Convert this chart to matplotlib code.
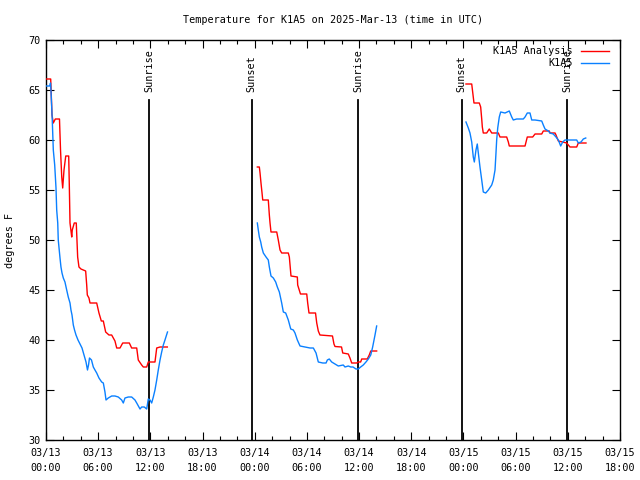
import matplotlib
matplotlib.use("Agg")
import matplotlib.pyplot as plt
import numpy as np
from matplotlib.ticker import MultipleLocator, FixedLocator

# ---- data (hours since 2025-03-13 00:00 UTC, degrees F) ----
an1_h = [0.06, 0.54, 0.69, 0.84, 1.07, 1.55, 1.67, 1.81, 1.92, 2.07, 2.27, 2.61, 2.68, 2.76, 2.96, 3.02,
         3.25, 3.48, 3.64, 3.79, 4.02, 4.56, 4.68, 4.75, 4.94, 5.06, 5.83, 6.09, 6.36, 6.59, 6.86, 7.24,
         7.55, 7.74, 7.93, 8.13, 8.51, 8.82, 9.58, 9.85, 10.43, 10.61, 11.00, 11.19, 11.58, 11.76, 12.53,
         12.73, 13.11, 13.95]
an1_v = [66.1, 66.1, 62.5, 61.7, 62.1, 62.1, 59.0, 56.3, 55.2, 57.0, 58.4, 58.4, 55.5, 51.7, 50.3, 51.0,
         51.7, 51.7, 48.3, 47.3, 47.1, 46.9, 45.5, 44.5, 44.2, 43.7, 43.7, 42.7, 41.9, 41.9, 40.8, 40.5,
         40.5, 40.2, 39.9, 39.2, 39.2, 39.7, 39.7, 39.2, 39.2, 38.0, 37.5, 37.3, 37.3, 37.8, 37.8,
         39.2, 39.3, 39.3]

ob1_h = [0.06, 0.43, 0.52, 0.57, 0.72, 0.84, 1.00, 1.15, 1.23, 1.35, 1.41, 1.61, 1.72, 1.84, 1.99, 2.18,
         2.38, 2.56, 2.76, 2.87, 2.99, 3.14, 3.28, 3.45, 3.68, 3.91, 4.14, 4.37, 4.60, 4.77, 4.89, 5.00,
         5.23, 5.44, 5.63, 5.83, 6.09, 6.40, 6.59, 6.78, 6.90, 7.16, 7.55, 7.93, 8.31, 8.70, 8.89, 9.08,
         9.46, 9.85, 10.23, 10.43, 10.81, 11.00, 11.30, 11.58, 11.76, 11.96, 12.15, 12.34, 12.53, 12.73,
         12.91, 13.11, 13.30, 13.49, 13.68, 13.97]
ob1_v = [65.4, 65.4, 65.7, 65.0, 62.0, 59.0, 57.5, 55.2, 53.0, 51.7, 50.0, 48.2, 47.3, 46.7, 46.2, 45.8,
         45.0, 44.3, 43.7, 43.0, 42.5, 41.5, 41.0, 40.5, 40.0, 39.6, 39.2, 38.5, 37.8, 37.0, 37.5, 38.2,
         38.0, 37.3, 37.0, 36.7, 36.2, 35.8, 35.7, 34.8, 34.0, 34.2, 34.4, 34.4, 34.3, 34.0, 33.7, 34.2,
         34.3, 34.3, 34.0, 33.7, 33.1, 33.3, 33.3, 33.1, 34.1, 34.0, 33.7, 34.3, 35.0, 36.0,
         37.0, 38.0, 38.8, 39.5, 40.0, 40.8]

an2_h = [24.30, 24.53, 24.61, 24.72, 24.84, 24.92, 25.56, 25.68, 25.76, 25.87, 26.53, 26.71, 26.91, 27.10,
         27.86, 27.98, 28.06, 28.17, 28.90, 28.94, 29.26, 29.98, 30.09, 30.24, 30.99, 31.13, 31.31, 31.50,
         32.94, 33.11, 33.23, 33.98, 34.12, 34.76, 34.95, 35.15, 35.73, 35.91, 36.18, 36.30, 36.94, 37.17,
         37.34, 38.02]
an2_v = [57.3, 57.3, 56.7, 55.7, 54.7, 54.0, 54.0, 52.5, 51.7, 50.8, 50.8, 50.0, 49.0, 48.7,
         48.7, 48.3, 47.5, 46.4, 46.3, 45.5, 44.6, 44.6, 43.7, 42.7, 42.7, 41.7, 40.9, 40.5,
         40.4, 39.6, 39.35, 39.3, 38.7, 38.6, 38.2, 37.7, 37.7, 37.8, 37.8, 38.1, 38.1, 38.5,
         38.9, 38.9]

ob2_h = [24.30, 24.41, 24.53, 24.69, 24.80, 24.99, 25.30, 25.56, 25.68, 25.87, 26.14, 26.41, 26.60, 26.83,
         27.10, 27.29, 27.56, 27.86, 28.14, 28.44, 28.63, 28.90, 29.21, 29.78, 30.36, 30.74, 31.05, 31.31,
         31.82, 32.20, 32.35, 32.57, 32.85, 33.23, 33.61, 34.18, 34.38, 34.76, 35.04, 35.30, 35.64, 35.91,
         36.18, 36.48, 36.79, 37.06, 37.34, 37.56, 37.83, 38.02]
ob2_v = [51.7, 51.0, 50.3, 49.8, 49.3, 48.7, 48.3, 48.0, 47.3, 46.4, 46.2, 45.8, 45.3, 44.8,
         43.7, 42.8, 42.7, 42.0, 41.1, 41.0, 40.7, 40.0, 39.4, 39.3, 39.2, 39.2, 38.7, 37.8,
         37.7, 37.7, 38.0, 38.1, 37.8, 37.6, 37.4, 37.5, 37.3, 37.4, 37.3, 37.3, 37.1, 37.1,
         37.3, 37.5, 37.8, 38.1, 38.5, 39.3, 40.5, 41.4]

an3_h = [48.29, 48.95, 49.06, 49.21, 49.82, 49.98, 50.10, 50.17, 50.28, 50.67, 50.97, 51.25, 52.01, 52.20,
         52.97, 53.16, 53.27, 55.08, 55.34, 55.96, 56.23, 57.00, 57.18, 57.87, 57.95, 58.53, 58.64, 58.91,
         59.87, 60.25, 61.02, 61.21, 62.09]
an3_v = [65.6, 65.6, 64.8, 63.7, 63.7, 63.3, 62.1, 61.3, 60.7, 60.7, 61.1, 60.7, 60.7, 60.3,
         60.3, 59.8, 59.4, 59.4, 60.3, 60.3, 60.6, 60.6, 60.9, 60.9, 60.7, 60.7, 60.5, 59.9,
         59.7, 59.3, 59.3, 59.7, 59.7]

ob3_h = [48.29, 48.56, 48.75, 48.95, 49.13, 49.25, 49.44, 49.59, 49.71, 49.90, 50.10, 50.28, 50.56, 50.86,
         51.25, 51.43, 51.63, 51.74, 51.82, 51.94, 52.12, 52.28, 52.78, 53.27, 53.55, 53.73, 54.12, 54.88,
         55.08, 55.34, 55.65, 55.85, 56.23, 57.00, 57.18, 57.38, 57.76, 57.95, 58.33, 58.64, 58.91, 59.18,
         59.41, 59.67, 61.02, 61.21, 61.52, 61.78, 62.06]
ob3_v = [61.8, 61.2, 60.7, 59.8, 58.3, 57.8, 59.0, 59.6, 58.7, 57.3, 56.0, 54.8, 54.7, 55.0,
         55.5, 56.0, 57.0, 58.7, 60.0, 61.2, 62.3, 62.8, 62.7, 62.9, 62.3, 62.0, 62.1, 62.1,
         62.3, 62.7, 62.7, 62.0, 62.0, 61.9, 61.5, 61.1, 60.9, 60.7, 60.6, 60.3, 60.0, 59.4,
         59.8, 60.0, 60.0, 59.7, 59.8, 60.1, 60.2]

sun_h = [11.90, 23.63, 35.91, 47.78, 59.94]
sun_lbl = ["Sunrise", "Sunset", "Sunrise", "Sunset", "Sunrise"]

xtick_h = [0, 6, 12, 18, 24, 30, 36, 42, 48, 54, 60, 66]
xtick_lbl = ["03/13\n00:00", "03/13\n06:00", "03/13\n12:00", "03/13\n18:00",
             "03/14\n00:00", "03/14\n06:00", "03/14\n12:00", "03/14\n18:00",
             "03/15\n00:00", "03/15\n06:00", "03/15\n12:00", "03/15\n18:00"]

RED = "#ff0000"
BLUE = "#0a80ff"
FONT = "DejaVu Sans Mono"
FS = 7.3

fig = plt.figure(figsize=(6.4, 4.8), dpi=100)
ax = fig.add_axes([46/640, 40/480, 574/640, 400/480])

for i, (h, v) in enumerate([(an1_h, an1_v), (an2_h, an2_v), (an3_h, an3_v)]):
    ax.plot(h, v, color=RED, lw=1.0, label="K1A5 Analysis" if i == 0 else None, zorder=3)
for i, (h, v) in enumerate([(ob1_h, ob1_v), (ob2_h, ob2_v), (ob3_h, ob3_v)]):
    ax.plot(h, v, color=BLUE, lw=1.0, label="K1A5" if i == 0 else None, zorder=3)

for h, lbl in zip(sun_h, sun_lbl):
    ax.plot([h, h], [30, 64.0], color="black", lw=1.3, zorder=2)
    ax.text(h, 64.8, lbl, rotation=90, ha="center", va="bottom",
            fontsize=FS, family=FONT, zorder=4)

ax.set_xlim(0, 66)
ax.set_ylim(30, 70)
ax.xaxis.set_major_locator(FixedLocator(xtick_h))
ax.set_xticklabels(xtick_lbl, family=FONT, fontsize=FS, linespacing=1.55)
ax.xaxis.set_minor_locator(MultipleLocator(2))
ax.yaxis.set_major_locator(MultipleLocator(5))
for lab in ax.get_yticklabels():
    lab.set_family(FONT)
    lab.set_fontsize(FS)
ax.tick_params(which="both", direction="in", top=True, right=True, width=0.8)
ax.tick_params(which="major", length=6)
ax.tick_params(which="minor", length=3)
ax.tick_params(axis="x", pad=6)
ax.tick_params(axis="y", pad=4)
for s in ax.spines.values():
    s.set_linewidth(1.0)

ax.set_ylabel("degrees F", family=FONT, fontsize=FS)
ax.yaxis.set_label_coords(-31/574, 0.5)

fig.text(333/640, 1 - 20/480, "Temperature for K1A5 on 2025-Mar-13 (time in UTC)",
         ha="center", va="center", family=FONT, fontsize=FS)

leg = ax.legend(loc="upper right", bbox_to_anchor=(1.0 - 5/574, 1.0), frameon=False, markerfirst=False,
                prop={"family": FONT, "size": FS}, handlelength=2.8, handletextpad=0.8,
                labelspacing=0.2, borderaxespad=0.2)

fig.savefig("out.png", dpi=100)
